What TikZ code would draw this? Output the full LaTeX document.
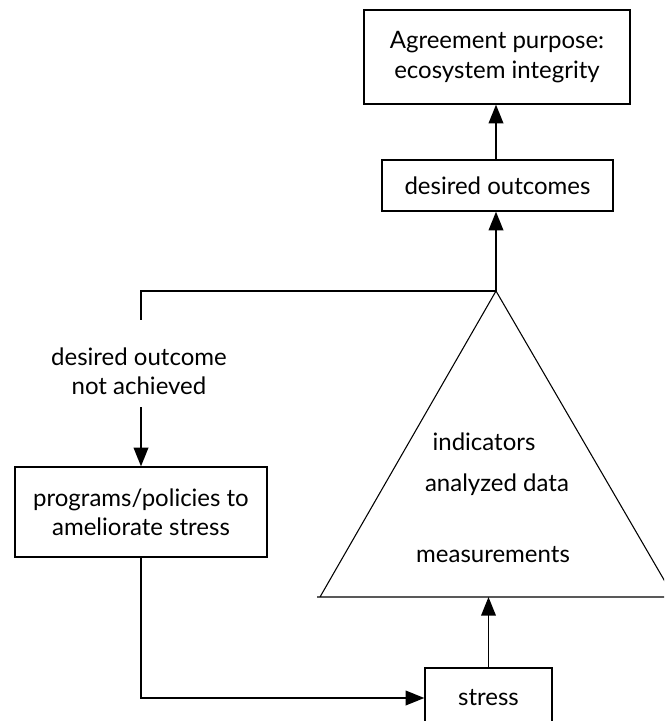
\documentclass[tikz,border=0pt]{standalone}
\usepackage{fontspec}
\setmainfont{Lato}
\usetikzlibrary{arrows.meta}
\begin{document}
\begin{tikzpicture}[x=0.75pt,y=-0.75pt,
  font=\fontsize{18}{22}\selectfont,
  box/.style={draw,line width=1pt,inner sep=0pt,align=center},
  lbl/.style={inner sep=0pt,align=center},
  arr/.style={line width=1.1pt,-{Triangle[length=14pt,width=11pt]}},
  link/.style={line width=1.1pt}]
\useasboundingbox (0,0) rectangle (664,721);
\clip (0,0) rectangle (664,721);

% boxes
\node[box,minimum width=199.5pt,minimum height=70.5pt] (purpose) at (497,57)
  {Agreement purpose:\\ecosystem integrity};
\node[box,minimum width=173.25pt,minimum height=38.25pt] (desired) at (497.5,185.5)
  {desired outcomes};
\node[box,minimum width=189pt,minimum height=67.5pt] (programs) at (141,512)
  {programs/policies to\\ameliorate stress};
\node[box,minimum width=95.25pt,minimum height=45pt] (stress) at (488.5,698)
  {stress};

% pyramid of information
\coordinate (apex) at (496,291);
\coordinate (baseL) at (317,597);
\coordinate (baseR) at (674,597);
\draw[line width=0.8pt] (apex) -- (320,597) (apex) -- (baseR) (baseL) -- (baseR);
\node[lbl] (indicators) at (484,442) {indicators};
\node[lbl] (analyzed) at (497,485) {analyzed data};
\node[lbl] (measurements) at (493,555) {measurements};

% feedback branch
\coordinate (corner) at (141,291);
\coordinate (tickend) at (141,320);
\coordinate (arrstart) at (141,407);
\node[lbl] (notach) at (139,371) {desired outcome\\not achieved};

% connectors
\draw[arr] (apex) -- (apex |- desired.south);
\draw[arr] (apex |- desired.north) -- (apex |- purpose.south);
\draw[link] (apex) -- (corner) -- (tickend);
\draw[arr] (arrstart) -- (programs.north);
\draw[arr] (programs.south) |- (stress.west);
\draw[arr] (stress.north) -- (stress.north |- baseL);
\end{tikzpicture}
\end{document}
